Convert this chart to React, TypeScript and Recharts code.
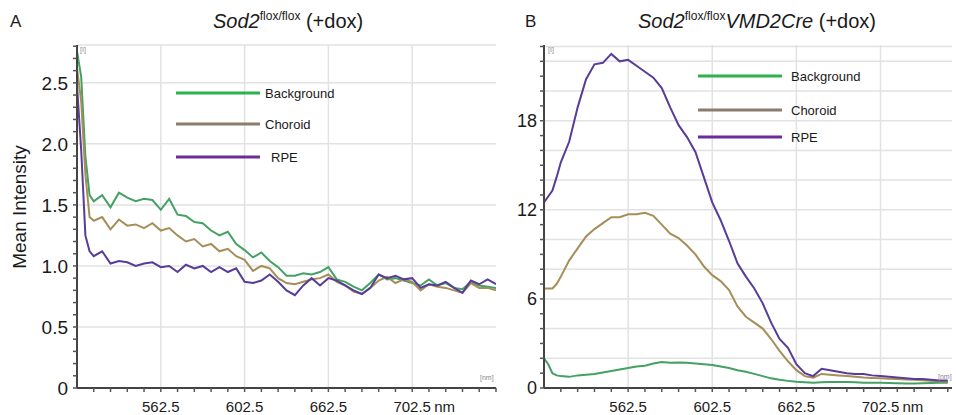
import React from 'react';
import { LineChart, Line, XAxis, YAxis, ReferenceLine, Legend } from 'recharts';

// wavelength samples (nm)
const wavelengths = [
  522.5, 524.5, 526.5, 528.5, 530.5, 534.5, 538.5, 542.5, 546.5, 550.5, 554.5, 558.5, 562.5,
  566.5, 570.5, 574.5, 578.5, 582.5, 586.5, 590.5, 594.5, 598.5, 602.5, 606.5, 610.5, 614.5,
  618.5, 622.5, 626.5, 630.5, 634.5, 638.5, 642.5, 646.5, 650.5, 654.5, 658.5, 662.5, 666.5,
  670.5, 674.5, 678.5, 682.5, 686.5, 690.5, 694.5, 698.5, 702.5, 706.5, 710.5, 714.5, 718.5,
  722.5,
];

// panel A: Sod2 flox/flox (+dox)
const backgroundA = [
  2.76, 2.55, 1.9, 1.58, 1.53, 1.58, 1.48, 1.6, 1.56, 1.53, 1.55, 1.54, 1.46, 1.55, 1.42, 1.41,
  1.36, 1.35, 1.29, 1.25, 1.28, 1.18, 1.13, 1.07, 1.11, 1.04, 0.99, 0.92, 0.92, 0.94, 0.93, 0.95,
  0.99, 0.89, 0.87, 0.83, 0.8, 0.86, 0.93, 0.89, 0.9, 0.88, 0.86, 0.84, 0.89, 0.84, 0.86, 0.82,
  0.81, 0.87, 0.84, 0.83, 0.82,
];
const choroidA = [
  2.62, 2.35, 1.75, 1.4, 1.37, 1.4, 1.3, 1.38, 1.33, 1.34, 1.31, 1.35, 1.29, 1.31, 1.25, 1.2,
  1.22, 1.16, 1.18, 1.12, 1.14, 1.08, 1.05, 0.96, 1.0, 0.98, 0.9, 0.86, 0.85, 0.87, 0.89, 0.9,
  0.93, 0.87, 0.84, 0.79, 0.77, 0.82, 0.88, 0.91, 0.86, 0.89, 0.87, 0.8, 0.85, 0.83, 0.82, 0.8,
  0.78, 0.86, 0.82, 0.82, 0.8,
];
const rpeA = [
  2.48, 1.95, 1.25, 1.12, 1.08, 1.12, 1.02, 1.04, 1.03, 1.0, 1.02, 1.03, 0.99, 1.0, 0.95, 1.01,
  0.98, 1.0, 0.95, 0.99, 0.95, 0.98, 0.87, 0.86, 0.88, 0.93, 0.87, 0.8, 0.76, 0.84, 0.9, 0.84,
  0.9, 0.88, 0.84, 0.8, 0.77, 0.82, 0.93, 0.9, 0.92, 0.89, 0.9, 0.82, 0.85, 0.84, 0.87, 0.82,
  0.78, 0.88, 0.85, 0.89, 0.85,
];

// panel B: Sod2 flox/flox VMD2Cre (+dox)
const backgroundB = [
  2.0, 1.6, 1.0, 0.85, 0.8, 0.75, 0.85, 0.9, 0.95, 1.05, 1.15, 1.25, 1.35, 1.45, 1.5, 1.65,
  1.75, 1.7, 1.72, 1.7, 1.65, 1.6, 1.55, 1.45, 1.35, 1.2, 1.1, 0.95, 0.8, 0.65, 0.55, 0.48, 0.42,
  0.38, 0.35, 0.38, 0.4, 0.4, 0.4, 0.38, 0.36, 0.35, 0.35, 0.33, 0.32, 0.3, 0.3, 0.32, 0.33,
  0.35, 0.35,
];
const choroidB = [
  6.7, 6.7, 6.7, 7.0, 7.5, 8.6, 9.4, 10.2, 10.7, 11.1, 11.5, 11.5, 11.7, 11.7, 11.8, 11.6, 11.0,
  10.4, 10.1, 9.6, 9.0, 8.2, 7.6, 7.2, 6.6, 5.5, 4.8, 4.4, 4.0, 3.3, 2.5, 1.8, 1.2, 0.8, 0.7,
  0.95, 0.9, 0.85, 0.8, 0.75, 0.7, 0.68, 0.65, 0.62, 0.6, 0.57, 0.55, 0.52, 0.48, 0.45, 0.42,
];
const rpeB = [
  12.5, 12.9, 13.3, 14.2, 15.2, 16.6, 18.9, 20.8, 21.8, 21.9, 22.5, 22.0, 22.1, 21.7, 21.3, 20.9,
  20.2, 18.9, 17.7, 16.9, 15.9, 14.2, 12.5, 11.3, 9.9, 8.4, 7.5, 6.7, 5.7, 4.4, 3.3, 2.7, 1.6,
  1.0, 0.8, 1.3, 1.2, 1.1, 1.0, 0.95, 0.95, 0.85, 0.8, 0.75, 0.7, 0.65, 0.6, 0.6, 0.55, 0.5, 0.5,
];

const seriesKeys = ['background', 'choroid', 'rpe'];
const seriesNames = ['Background', 'Choroid', 'RPE'];
const lineColors = ['#44a164', '#a68e58', '#573d97'];
const legendColors = ['#2cb14d', '#8b7c6c', '#6a2c9e'];

// x axis: minor ticks every 8 nm, labels on majors
const xTicks = [
  530.5, 538.5, 546.5, 554.5, 562.5, 570.5, 578.5, 586.5, 594.5, 602.5, 610.5, 618.5, 626.5,
  634.5, 642.5, 650.5, 658.5, 666.5, 674.5, 682.5, 690.5, 698.5, 706.5, 714.5, 722.5,
];
const xMajor = [562.5, 602.5, 642.5, 682.5];
const xMajorLabels = ['562.5', '602.5', '662.5', '702.5 nm'];

const yTicksA = [
  0, 0.1, 0.2, 0.3, 0.4, 0.5, 0.6, 0.7, 0.8, 0.9, 1, 1.1, 1.2, 1.3, 1.4, 1.5, 1.6, 1.7, 1.8, 1.9,
  2, 2.1, 2.2, 2.3, 2.4, 2.5, 2.6, 2.7, 2.8,
];
const yMajorA = [0, 0.5, 1, 1.5, 2, 2.5];
const yMajorLabelsA = ['0', '0.5', '1.0', '1.5', '2.0', '2.5'];
const yGridA = [0.5, 1, 1.5, 2, 2.5, 2.81];

const yTicksB = [
  0, 1, 2, 3, 4, 5, 6, 7, 8, 9, 10, 11, 12, 13, 14, 15, 16, 17, 18, 19, 20, 21, 22, 23,
];
const yMajorB = [0, 6, 12, 18];
const yMajorLabelsB = ['0', '6', '12', '18'];
const yGridB = [2, 4, 6, 8, 10, 12, 14, 16, 18, 20, 22, 23];

const FONT = '"Liberation Sans", Arial, Helvetica, sans-serif';
const GRID = '#e2e2e2';

const dataA = wavelengths.map((w, i) => ({
  w,
  background: backgroundA[i],
  choroid: choroidA[i],
  rpe: rpeA[i],
}));
const dataB = wavelengths.slice(0, backgroundB.length).map((w, i) => ({
  w,
  background: backgroundB[i],
  choroid: choroidB[i],
  rpe: rpeB[i],
}));

function XTick(props: any) {
  const { x, y, payload } = props;
  const i = xMajor.indexOf(payload.value);
  if (i < 0) return <g />;
  const [num, unit] = xMajorLabels[i].split(' ');
  return (
    <g>
      <text x={x} y={y} dy="0.71em" textAnchor="middle" fontSize={15} fill="#1a1a1a">
        {num}
      </text>
      {unit && (
        <text x={x + 22} y={y} dy="0.71em" textAnchor="start" fontSize={15} fill="#1a1a1a">
          {unit}
        </text>
      )}
    </g>
  );
}

function makeLegend(rows: number[], textX: number[]) {
  return (props: any) => {
    const payload = props.payload || [];
    return (
      <svg width={150} height={80} style={{ overflow: 'visible' }}>
        {payload.map((p: any, i: number) => (
          <g key={p.value}>
            <line x1={0} x2={84} y1={rows[i]} y2={rows[i]} stroke={legendColors[i]} strokeWidth={3} />
            <text
              x={textX[i]}
              y={rows[i]}
              dominantBaseline="central"
              fontSize={13}
              fill="#1a1a1a"
              fontFamily={FONT}
            >
              {p.value}
            </text>
          </g>
        ))}
      </svg>
    );
  };
}

type PanelProps = {
  data: any[];
  width: number;
  margin: { top: number; right: number; bottom: number; left: number };
  yWidth: number;
  xDomain: [number, number];
  yDomain: [number, number];
  yTicks: number[];
  yMajor: number[];
  yMajorLabels: string[];
  yGrid: number[];
  yFont: number;
  yTickMargin: number;
  legendPos: { left: number; top: number };
  legendRows: number[];
  legendTextX: number[];
};

function Panel(p: PanelProps) {
  const ticksX = xTicks.filter((t) => t <= p.xDomain[1]);
  return (
    <LineChart width={p.width} height={415} data={p.data} margin={p.margin}>
      {xMajor.map((x) => (
        <ReferenceLine key={'vx' + x} x={x} stroke={GRID} strokeWidth={1.5} />
      ))}
      {p.yGrid.map((y) => (
        <ReferenceLine key={'hy' + y} y={y} stroke={GRID} strokeWidth={1.5} />
      ))}
      <XAxis
        dataKey="w"
        type="number"
        domain={p.xDomain}
        ticks={ticksX}
        interval={0}
        height={27}
        tickSize={4}
        tickMargin={9}
        axisLine={{ stroke: '#444', strokeWidth: 2 }}
        tickLine={{ stroke: '#555', strokeWidth: 1.5 }}
        tick={<XTick />}
        allowDataOverflow
      />
      <YAxis
        type="number"
        domain={p.yDomain}
        ticks={p.yTicks}
        interval={0}
        width={p.yWidth}
        tickSize={4}
        tickMargin={p.yTickMargin}
        axisLine={{ stroke: '#444', strokeWidth: 2 }}
        tickLine={{ stroke: '#555', strokeWidth: 1.5 }}
        tick={{ fontSize: p.yFont, fill: '#1a1a1a' }}
        tickFormatter={(v: number) => {
          const i = p.yMajor.indexOf(v);
          return i < 0 ? '' : p.yMajorLabels[i];
        }}
        allowDataOverflow
      />
      <Legend
        layout="vertical"
        align="center"
        verticalAlign="middle"
        content={makeLegend(p.legendRows, p.legendTextX)}
        wrapperStyle={{ left: p.legendPos.left, top: p.legendPos.top, width: 150, height: 80 }}
      />
      {seriesKeys.map((k, i) => (
        <Line
          key={k}
          dataKey={k}
          name={seriesNames[i]}
          type="linear"
          stroke={lineColors[i]}
          strokeWidth={2}
          dot={false}
          isAnimationActive={false}
        />
      ))}
    </LineChart>
  );
}

export default function App() {
  return (
    <div
      style={{
        position: 'absolute',
        left: 0,
        top: 0,
        width: 956,
        height: 415,
        background: '#fff',
        fontFamily: FONT,
        overflow: 'hidden',
      }}
    >
      <div style={{ position: 'absolute', left: 0, top: 0 }}>
        <Panel
          data={dataA}
          width={500}
          margin={{ top: 45, right: 4, bottom: 0, left: 17 }}
          yWidth={60}
          xDomain={[522.5, 722.5]}
          yDomain={[0, 2.81]}
          yTicks={yTicksA}
          yMajor={yMajorA}
          yMajorLabels={yMajorLabelsA}
          yGrid={yGridA}
          yFont={19}
          yTickMargin={5}
          legendPos={{ left: 176, top: 87 }}
          legendRows={[6, 37, 70]}
          legendTextX={[89, 89, 95]}
        />
      </div>
      <div style={{ position: 'absolute', left: 480, top: 0 }}>
        <Panel
          data={dataB}
          width={476}
          margin={{ top: 45, right: 4, bottom: 0, left: 14 }}
          yWidth={50}
          xDomain={[522.5, 716.5]}
          yDomain={[0, 23.1]}
          yTicks={yTicksB}
          yMajor={yMajorB}
          yMajorLabels={yMajorLabelsB}
          yGrid={yGridB}
          yFont={18}
          yTickMargin={3}
          legendPos={{ left: 218, top: 70 }}
          legendRows={[6, 40, 67]}
          legendTextX={[93, 93, 93]}
        />
      </div>
      <svg
        width={956}
        height={415}
        style={{ position: 'absolute', left: 0, top: 0, pointerEvents: 'none' }}
      >
        <g fontFamily={FONT} fill="#1a1a1a">
          <text x={10} y={27} fontSize={17}>A</text>
          <text x={525} y={27} fontSize={17}>B</text>
          <text x={213} y={28} fontSize={20}>
            <tspan fontStyle="italic">Sod2</tspan>
            <tspan fontSize={12} dy={-8}>flox/flox</tspan>
            <tspan dy={8}> (+dox)</tspan>
          </text>
          <text x={638} y={28} fontSize={20}>
            <tspan fontStyle="italic">Sod2</tspan>
            <tspan fontSize={12} dy={-8}>flox/flox</tspan>
            <tspan dy={8} fontStyle="italic">VMD2Cre</tspan>
            <tspan> (+dox)</tspan>
          </text>
          <text
            x={19}
            y={207}
            fontSize={19}
            textAnchor="middle"
            dominantBaseline="central"
            transform="rotate(-90 19 207)"
          >
            Mean Intensity
          </text>
          <text x={80} y={52} fontSize={7} fill="#888">[I]</text>
          <text x={548} y={52} fontSize={7} fill="#888">[I]</text>
          <text x={480} y={380} fontSize={7} fill="#888">[nm]</text>
          <text x={938} y={379} fontSize={7} fill="#888">[nm]</text>
        </g>
      </svg>
    </div>
  );
}
